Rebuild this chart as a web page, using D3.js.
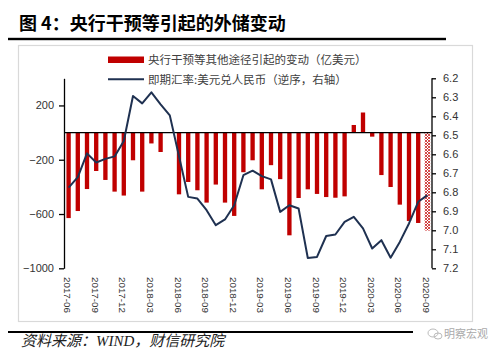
<!DOCTYPE html>
<html><head><meta charset="utf-8">
<script src="https://cdn.jsdelivr.net/npm/d3@7"></script>
<style>body{margin:0;background:#fff}</style></head>
<body><svg id="c" width="500" height="357"></svg>
<script>
const months = ["2017-06","2017-07","2017-08","2017-09","2017-10","2017-11","2017-12","2018-01","2018-02","2018-03",
"2018-04","2018-05","2018-06","2018-07","2018-08","2018-09","2018-10","2018-11","2018-12","2019-01",
"2019-02","2019-03","2019-04","2019-05","2019-06","2019-07","2019-08","2019-09","2019-10","2019-11",
"2019-12","2020-01","2020-02","2020-03","2020-04","2020-05","2020-06","2020-07","2020-08","2020-09"];
const interventions = [-630,-578,-416,-283,-349,-435,-464,-204,-435,-80,
-143,0,-455,-364,-425,-516,-383,-516,-614,-292,
-204,-418,-240,-343,-757,-482,-418,-452,-475,-480,
-470,56,148,-30,-313,-401,-531,-651,-666,-722];
const spotRate = [6.775,6.72,6.595,6.643,6.624,6.611,6.53,6.293,6.332,6.274,
6.337,6.395,6.61,6.824,6.833,6.894,6.973,6.943,6.868,6.71,
6.686,6.715,6.732,6.903,6.868,6.885,7.146,7.14,7.03,7.022,
6.956,6.929,6.99,7.096,7.052,7.144,7.061,6.964,6.85,6.815];
const estimatedMonths = ["2020-09"];
const leftTicks = [200,-200,-600,-1000];
const rightTicks = [6.2,6.3,6.4,6.5,6.6,6.7,6.8,6.9,7.0,7.1,7.2];
const xTickLabels = ["2017-06","2017-09","2017-12","2018-03","2018-06","2018-09","2018-12",
"2019-03","2019-06","2019-09","2019-12","2020-03","2020-06","2020-09"];
const legendLabels = ["央行干预等其他途径引起的变动（亿美元）","即期汇率:美元兑人民币（逆序，右轴）"];
const title = "图 4：央行干预等引起的外储变动";
const source = "资料来源：WIND，财信研究院";

const svg = d3.select("#c");
const RED = "#c00000", NAVY = "#1f3151";
const sans = "'Liberation Sans', Arial, sans-serif";
const cjk = "'Noto Sans CJK SC', sans-serif";

// title and rules
svg.append("text").attr("x",19).attr("y",30).attr("font-family",cjk).attr("font-weight","bold")
  .attr("font-size",18).attr("fill","#000").text(title);
svg.append("rect").attr("x",8).attr("y",37.8).attr("width",438).attr("height",2.4).attr("fill","#000");
svg.append("rect").attr("x",8).attr("y",331).attr("width",405).attr("height",2).attr("fill","#000");
svg.append("text").attr("x",21).attr("y",346).attr("font-family","'Liberation Serif', "+cjk)
  .attr("font-style","italic").attr("font-size",15).attr("fill","#222").text(source);
svg.append("text").attr("x",444).attr("y",338).attr("font-family",cjk).attr("font-size",11)
  .attr("fill","#aaa").text("明察宏观");
svg.append("ellipse").attr("cx",433).attr("cy",333).attr("rx",5).attr("ry",4).attr("fill","none").attr("stroke","#bbb");
svg.append("ellipse").attr("cx",438).attr("cy",336).attr("rx",4).attr("ry",3).attr("fill","none").attr("stroke","#bbb");

// frame
svg.append("rect").attr("x",18.5).attr("y",45.5).attr("width",454).attr("height",276)
  .attr("fill","none").attr("stroke","#d9d9d9").attr("stroke-width",1.2);

// pattern for estimated bar
const defs = svg.append("defs");
const pat = defs.append("pattern").attr("id","hatch").attr("patternUnits","userSpaceOnUse")
  .attr("width",3).attr("height",3);
pat.append("rect").attr("width",3).attr("height",3).attr("fill","#fff");
pat.append("path").attr("d","M0,0L3,3M3,0L0,3").attr("stroke",RED).attr("stroke-width",0.7);

const x = d3.scaleBand().domain(months).range([64,432]).paddingInner(0.53).paddingOuter(0.265);
const yL = d3.scaleLinear().domain([-1000,400]).range([268.3,78.3]);
const yR = d3.scaleLinear().domain([6.2,7.2]).range([78.3,268.3]);

// bars
svg.append("g").selectAll("rect").data(months).join("rect")
  .attr("x",d=>x(d) - (estimatedMonths.includes(d)?0.6:0))
  .attr("width",d=>x.bandwidth() + (estimatedMonths.includes(d)?1.2:0))
  .attr("y",(d,i)=>yL(Math.max(0,interventions[i])))
  .attr("height",(d,i)=>Math.abs(yL(interventions[i])-yL(0)))
  .attr("fill",d=>estimatedMonths.includes(d)?"url(#hatch)":RED);

// zero line
svg.append("line").attr("x1",64).attr("x2",432).attr("y1",yL(0)).attr("y2",yL(0))
  .attr("stroke","#000").attr("stroke-width",1.3);

// line
const line = d3.line().x((d,i)=>x(months[i])+x.bandwidth()/2).y(d=>yR(d));
svg.append("path").datum(spotRate).attr("d",line).attr("fill","none")
  .attr("stroke",NAVY).attr("stroke-width",2).attr("stroke-linejoin","round");

// axes
const gL = svg.append("g").attr("transform","translate(64,0)")
  .call(d3.axisLeft(yL).tickValues(leftTicks).tickFormat(d3.format("d")).tickSize(5).tickPadding(5).tickSizeOuter(0));
const gR = svg.append("g").attr("transform","translate(432,0)")
  .call(d3.axisRight(yR).tickValues(rightTicks).tickFormat(d3.format(".1f")).tickSize(4).tickPadding(7).tickSizeOuter(0));
[gL,gR].forEach(g=>{
  g.selectAll("path,line").attr("stroke","#000").attr("stroke-width",1.3);
  g.selectAll("text").attr("font-family",sans).attr("font-size",11).attr("fill","#333");
});
gR.select(".domain").attr("d","M0,78.3V268.3");

// x labels
svg.append("g").selectAll("text").data(xTickLabels).join("text")
  .attr("transform",d=>`translate(${x(d)+x.bandwidth()/2-1},277) rotate(90)`)
  .attr("dy","0.35em").attr("font-family",sans).attr("font-size",9.8).attr("fill","#333").text(d=>d);

// legend
const lg = svg.append("g");
lg.append("rect").attr("x",108).attr("y",56.5).attr("width",36).attr("height",6.5).attr("fill",RED);
lg.append("line").attr("x1",108).attr("x2",144).attr("y1",79.3).attr("y2",79.3).attr("stroke",NAVY).attr("stroke-width",2);
lg.selectAll("text").data(legendLabels).join("text")
  .attr("x",148).attr("y",(d,i)=>60+i*19.5).attr("dy","0.35em")
  .attr("font-family",cjk).attr("font-size",11.5).attr("fill","#404040").text(d=>d);
</script>
</body></html>
